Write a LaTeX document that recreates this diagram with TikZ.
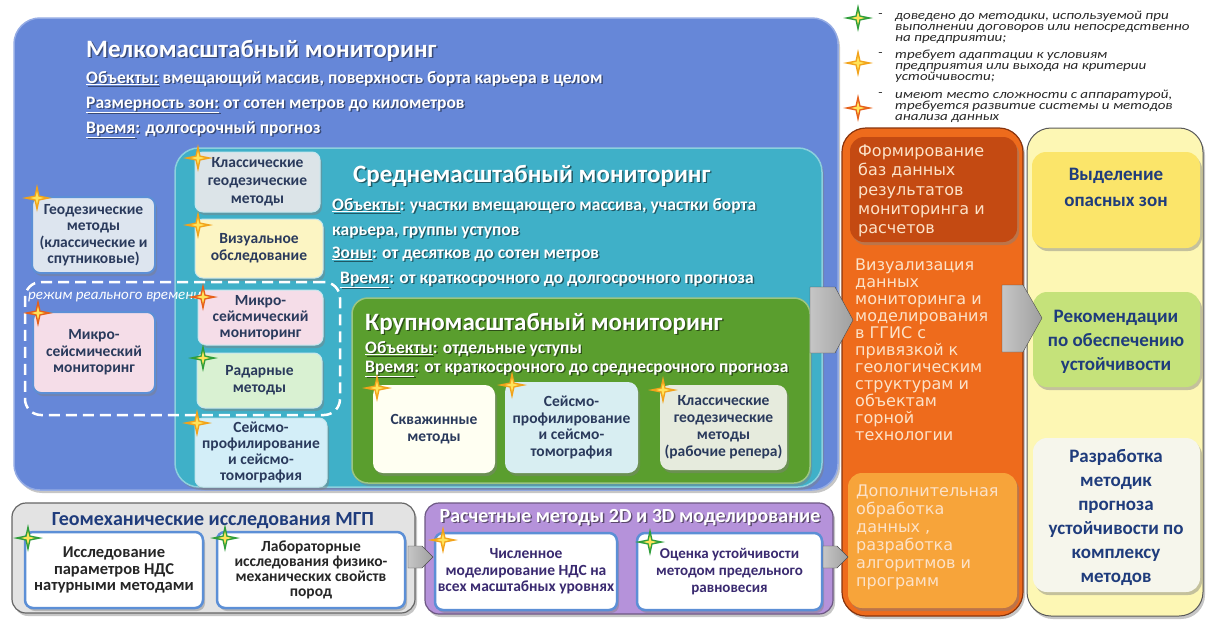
\documentclass[tikz,border=0pt]{standalone}
\usepackage{fontspec}
\setmainfont{Carlito}
\newfontfamily\wideface{DejaVu Sans}
\newfontfamily\noteface{Carlito}[FakeStretch=1.2]
\usetikzlibrary{fit,shadows}

% a line of text with a soft dark copy slightly below and to the right
\newcommand\castshade[2]{\makebox[0pt][l]{\hspace{1.4pt}\raisebox{-1.4pt}{\textcolor{#1}{#2}}}#2}

\definecolor{panelBlue}{HTML}{6687D8}
\definecolor{panelTeal}{HTML}{3FB0C8}
\definecolor{panelGreen}{HTML}{5A9E2E}
\definecolor{panelOrange}{HTML}{EE6B1C}
\definecolor{orangeDeep}{HTML}{C44A12}
\definecolor{orangeSoft}{HTML}{F7A43A}
\definecolor{panelYellow}{HTML}{FDF7B4}
\definecolor{boxGold}{HTML}{FBE56A}
\definecolor{boxLime}{HTML}{C5E27A}
\definecolor{boxIvory}{HTML}{F6F6EC}
\definecolor{panelGray}{HTML}{E3E3E3}
\definecolor{panelPurple}{HTML}{B592DA}
\definecolor{boxGeod}{HTML}{DDE5EF}
\definecolor{boxPink}{HTML}{F5DDE8}
\definecolor{boxSilver}{HTML}{DCE4E8}
\definecolor{boxCream}{HTML}{FCF5C3}
\definecolor{boxMint}{HTML}{D9F1D2}
\definecolor{boxSky}{HTML}{D3EEF8}
\definecolor{boxWhite}{HTML}{FFFFF2}
\definecolor{boxAqua}{HTML}{D8EEF2}
\definecolor{boxSage}{HTML}{E6EBDD}
\definecolor{inkNavy}{HTML}{2A3A5C}
\definecolor{inkBlue}{HTML}{1F3C7C}
\definecolor{inkPurple}{HTML}{3A2A70}
\definecolor{inkPeach}{HTML}{FCE2C8}
\definecolor{frameBlue}{HTML}{5C8FD6}
\definecolor{starGold}{HTML}{F2A31B}
\definecolor{starRed}{HTML}{E6601A}
\definecolor{starGreen}{HTML}{2F9E3A}
\definecolor{starCore}{HTML}{FFE35A}
\colorlet{shBlue}{panelBlue!55!black}
\colorlet{shTeal}{panelTeal!50!black}
\colorlet{shGreen}{panelGreen!50!black}
\colorlet{shPurple}{panelPurple!50!black}

\begin{document}
\begin{tikzpicture}[x=1pt,y=-1pt,
  panel/.style={inner sep=0pt, rounded corners=#1,
    drop shadow={shadow xshift=2pt,shadow yshift=-3pt,opacity=.45}},
  panel/.default=20pt,
  ttl/.style={font=\fontsize{25}{30}\selectfont\bfseries, text=white, anchor=base west, inner sep=0pt},
  sub/.style={font=\fontsize{17.5}{20}\selectfont\bfseries, text=white, anchor=base west, inner sep=0pt},
  lbl/.style={font=\fontsize{15.5}{#1}\selectfont\bfseries, text=inkNavy, align=center, inner sep=0pt},
  lbl/.default=16.5,
  big/.style={font=\fontsize{19}{#1}\selectfont\bfseries, text=inkBlue, align=center, inner sep=0pt},
  big/.default=24,
  wide/.style={font=\wideface\fontsize{16}{#1}\selectfont, text=inkPeach, align=left, anchor=west, inner sep=0pt},
  wide/.default=18.5,
  note/.style={font=\noteface\fontsize{12.5}{11}\selectfont\itshape, text=black!85, align=left, anchor=west, inner sep=0pt},
  blockarrow/.style={left color=gray!45, right color=gray!75, draw=gray!60!black, line width=.4pt},
  pics/sparkle/.style args={#1/#2}{code={
    \fill[#1] (-15,0) -- (-2.5,-2.5) -- (0,-14) -- (2.5,-2.5) -- (15,0) -- (2.5,2.5) -- (0,14) -- (-2.5,2.5) -- cycle;
    \fill[#2] (-7,0) -- (-1.3,-1.3) -- (0,-7) -- (1.3,-1.3) -- (7,0) -- (1.3,1.3) -- (0,7) -- (-1.3,1.3) -- cycle;
  }},
]
\useasboundingbox (0,0) rectangle (1206,621);

% ---------- small scale monitoring panel ----------
\node[panel=26pt, fill=panelBlue, draw=panelBlue!70!white, line width=1.5pt, fit={(14,18) (838,490)}] (small) {};
\node[ttl] (smallTitle) at (86,57) {\castshade{shBlue}{Мелкомасштабный мониторинг}};
\node[sub] (smallObj) at (86,83) {\castshade{shBlue}{\underline{Объекты:} вмещающий массив, поверхность борта карьера в целом}};
\node[sub] (smallZone) at (86,108) {\castshade{shBlue}{\underline{Размерность зон:} от сотен метров до километров}};
\node[sub] (smallTime) at (86,133) {\castshade{shBlue}{\underline{Время}: долгосрочный прогноз}};

% left column methods
\node[panel=8pt, fill=boxGeod, draw=frameBlue, line width=2pt, fit={(32,197) (155,273)}] (geod) {};
\node[lbl] (geodText) at (geod.center) {Геодезические\\методы\\(классические и\\спутниковые)};
\node[panel=8pt, fill=boxPink, draw=frameBlue, line width=2pt, fit={(33,312) (155,393)}] (microL) {};
\node[lbl] (microLText) at (microL.center) {Микро-\\сейсмический\\мониторинг};

% ---------- medium scale monitoring panel ----------
\node[panel=24pt, fill=panelTeal, draw=panelTeal!60!white, line width=1.5pt, fit={(175,148) (822,487)}] (medium) {};
\node[ttl] (medTitle) at (353,182) {\castshade{shTeal}{Среднемасштабный мониторинг}};
\node[sub] (medObj) at (332,210) {\castshade{shTeal}{\underline{Объекты}: участки вмещающего массива, участки борта}};
\node[sub] (medObj2) at (332,235) {\castshade{shTeal}{карьера, группы уступов}};
\node[sub] (medZone) at (332,258) {\castshade{shTeal}{\underline{Зоны}: от десятков до сотен метров}};
\node[sub] (medTime) at (340,283) {\castshade{shTeal}{\underline{Время}: от краткосрочного до долгосрочного прогноза}};

\node[panel=8pt, fill=boxSilver, draw=white!70!panelTeal, line width=1pt, fit={(195,152) (320,212)}] (klassT) {};
\node[lbl=18] (klassTText) at (klassT.center) {Классические\\геодезические\\методы};
\node[panel=8pt, fill=boxCream, draw=white!70!panelTeal, line width=1pt, fit={(195,219) (323,278)}] (vis) {};
\node[lbl=17] (visText) at (vis.center) {Визуальное\\обследование};
\node[panel=8pt, fill=boxPink, draw=white!70!panelTeal, line width=1pt, fit={(198,290) (323,345)}] (microT) {};
\node[lbl=16] (microTText) at (microT.center) {Микро-\\сейсмический\\мониторинг};
\node[panel=8pt, fill=boxMint, draw=white!70!panelTeal, line width=1pt, fit={(197,353) (322,408)}] (radar) {};
\node[lbl=17] (radarText) at (radar.center) {Радарные\\методы};
\node[panel=8pt, fill=boxSky, draw=white!70!panelTeal, line width=1pt, fit={(195,418) (327,487)}] (seisT) {};
\node[lbl=16] (seisTText) at (seisT.center) {Сейсмо-\\профилирование\\и сейсмо-\\томография};

% ---------- large scale monitoring panel ----------
\node[panel=16pt, fill=panelGreen, draw=panelGreen!60!white, line width=1.5pt, fit={(352,298) (810,483)}] (large) {};
\node[ttl] (largeTitle) at (365,330) {\castshade{shGreen}{Крупномасштабный мониторинг}};
\node[sub] (largeObj) at (365,353) {\castshade{shGreen}{\underline{Объекты}: отдельные уступы}};
\node[sub] (largeTime) at (365,372) {\castshade{shGreen}{\underline{Время}: от краткосрочного до среднесрочного прогноза}};

\node[panel=10pt, fill=boxWhite, fit={(373,385) (495,473)}] (skv) {};
\node[lbl=17] (skvText) at (skv.center) {Скважинные\\методы};
\node[panel=10pt, fill=boxAqua, fit={(505,382) (638,473)}] (seisG) {};
\node[lbl=16.7] (seisGText) at (seisG.center) {Сейсмо-\\профилирование\\и сейсмо-\\томография};
\node[panel=10pt, fill=boxSage, fit={(660,385) (787,470)}] (klassG) {};
\node[lbl=17] (klassGText) at (klassG.center) {Классические\\геодезические\\методы\\(рабочие репера)};

% real-time mode outline
\node[draw=white, line width=2.5pt, dash pattern=on 11pt off 6pt, rounded corners=16pt, inner sep=0pt, fit={(25,282) (340,415)}] (realtime) {};
\node[font=\fontsize{15}{17}\selectfont\itshape, text=white, anchor=west, inner sep=0pt] (realtimeText) at (28,297) {режим реального времени};

% ---------- data processing column ----------
\node[panel=24pt, fill=panelOrange, draw=orangeDeep!70!black, line width=1.2pt, fit={(842,128) (1023,616)}] (proc) {};
\node[panel=14pt, fill=orangeDeep, fit={(850,137) (1017,242)}] (procTop) {};
\node[wide=19.2] (procTopText) at (858,191) {Формирование\\баз данных\\результатов\\мониторинга и\\расчетов};
\node[wide=17] (procMidText) at (855,350) {Визуализация\\данных\\мониторинга и\\моделирования\\в ГГИС с\\привязкой к\\геологическим\\структурам и\\объектам\\горной\\технологии};
\node[panel=14pt, fill=orangeSoft, fit={(848,473) (1017,608)}] (procBot) {};
\node[wide=18] (procBotText) at (856,537) {Дополнительная\\обработка\\данных ,\\разработка\\алгоритмов и\\программ};

% ---------- results column ----------
\node[panel=24pt, fill=panelYellow, draw=gray!70!black, line width=1pt, fit={(1027,128) (1203,616)}] (res) {};
\node[panel=14pt, fill=boxGold, fit={(1032,152) (1200,248)}] (danger) {};
\node[big=26] (dangerText) at (1116,187) {Выделение\\опасных зон};
\node[panel=14pt, fill=boxLime, fit={(1033,292) (1200,387)}] (advice) {};
\node[big] (adviceText) at (1116,342) {Рекомендации\\по обеспечению\\устойчивости};
\node[panel=14pt, fill=boxIvory, fit={(1033,438) (1200,592)}] (forecast) {};
\node[big] (forecastText) at (1116,517) {Разработка\\методик\\прогноза\\устойчивости по\\комплексу\\методов};

% ---------- geomechanical studies ----------
\node[panel=14pt, fill=panelGray, draw=gray!80!black, line width=1.2pt, fit={(12,503) (415,613)}] (geomech) {};
\node[font=\fontsize{20}{24}\selectfont\bfseries, text=inkBlue, inner sep=0pt] (geomechTitle) at (213,521) {Геомеханические исследования МГП};
\node[panel=8pt, fill=white, draw=frameBlue, line width=2.5pt, fit={(25,532) (203,608)}] (field) {};
\node[font=\fontsize{16.5}{16.5}\selectfont\bfseries, text=black!85, align=center, inner sep=0pt] (fieldText) at (field.center) {Исследование\\параметров НДС\\натурными методами};
\node[panel=8pt, fill=white, draw=frameBlue, line width=2.5pt, fit={(217,532) (405,608)}] (lab) {};
\node[font=\fontsize{15.5}{15}\selectfont\bfseries, text=black!85, align=center, inner sep=0pt] (labText) at (lab.center) {Лабораторные\\исследования физико-\\механических свойств\\пород};

% ---------- numerical methods ----------
\node[panel=14pt, fill=panelPurple, draw=panelPurple!60!black, line width=1.2pt, fit={(425,503) (833,614)}] (calc) {};
\node[font=\fontsize{20}{24}\selectfont\bfseries, text=white, inner sep=0pt] (calcTitle) at (630,518) {\castshade{shPurple}{Расчетные методы 2D и 3D моделирование}};
\node[panel=8pt, fill=white, draw=frameBlue, line width=2.5pt, fit={(435,533) (617,610)}] (num) {};
\node[font=\fontsize{15.5}{16.5}\selectfont\bfseries, text=inkPurple, align=center, inner sep=0pt] (numText) at (num.center) {Численное\\моделирование НДС на\\всех масштабных уровнях};
\node[panel=8pt, fill=white, draw=frameBlue, line width=2.5pt, fit={(637,533) (822,610)}] (limit) {};
\node[font=\fontsize{15}{17}\selectfont\bfseries, text=inkPurple, align=center, inner sep=0pt] (limitText) at (limit.center) {Оценка устойчивости\\методом предельного\\равновесия};

% ---------- block arrows between stages ----------
\path[blockarrow] (810,287) -- (835,287) -- (853,320) -- (835,353) -- (810,353) -- cycle;
\path[blockarrow] (1002,285) -- (1023,285) -- (1042,318) -- (1023,352) -- (1002,352) -- cycle;
\path[blockarrow] (408,546) -- (422,546) -- (433,557) -- (422,568) -- (408,568) -- cycle;
\path[blockarrow] (823,546) -- (837,546) -- (848,557) -- (837,568) -- (823,568) -- cycle;

% ---------- legend ----------
\pic at (858,18) {sparkle=starGreen/starCore};
\pic at (858,63) {sparkle=starGold/starCore};
\pic at (858,108) {sparkle=starRed/starCore};
\node[note] (dashA) at (878,16) {-};
\node[note] (noteA) at (895,27) {доведено до методики, используемой при\\выполнении договоров или непосредственно\\на предприятии;};
\node[note] (dashB) at (878,55) {-};
\node[note] (noteB) at (895,66) {требует адаптации к условиям\\предприятия или выхода на критерии\\устойчивости;};
\node[note] (dashC) at (878,95) {-};
\node[note] (noteC) at (895,106) {имеют место сложности с аппаратурой,\\требуется развитие системы и методов\\анализа данных};

% ---------- method status marks ----------
\pic at (198,158) {sparkle=starGold/starCore};
\pic at (37,198) {sparkle=starGold/starCore};
\pic at (198,225) {sparkle=starGold/starCore};
\pic at (203,297) {sparkle=starRed/starCore};
\pic at (38,313) {sparkle=starRed/starCore};
\pic at (203,358) {sparkle=starGreen/starCore};
\pic at (197,423) {sparkle=starGold/starCore};
\pic at (377,388) {sparkle=starGold/starCore};
\pic at (512,385) {sparkle=starGold/starCore};
\pic at (663,390) {sparkle=starGold/starCore};
\pic at (28,538) {sparkle=starGreen/starCore};
\pic at (225,538) {sparkle=starGreen/starCore};
\pic at (443,540) {sparkle=starGold/starCore};
\pic at (650,542) {sparkle=starGreen/starCore};
\end{tikzpicture}
\end{document}
